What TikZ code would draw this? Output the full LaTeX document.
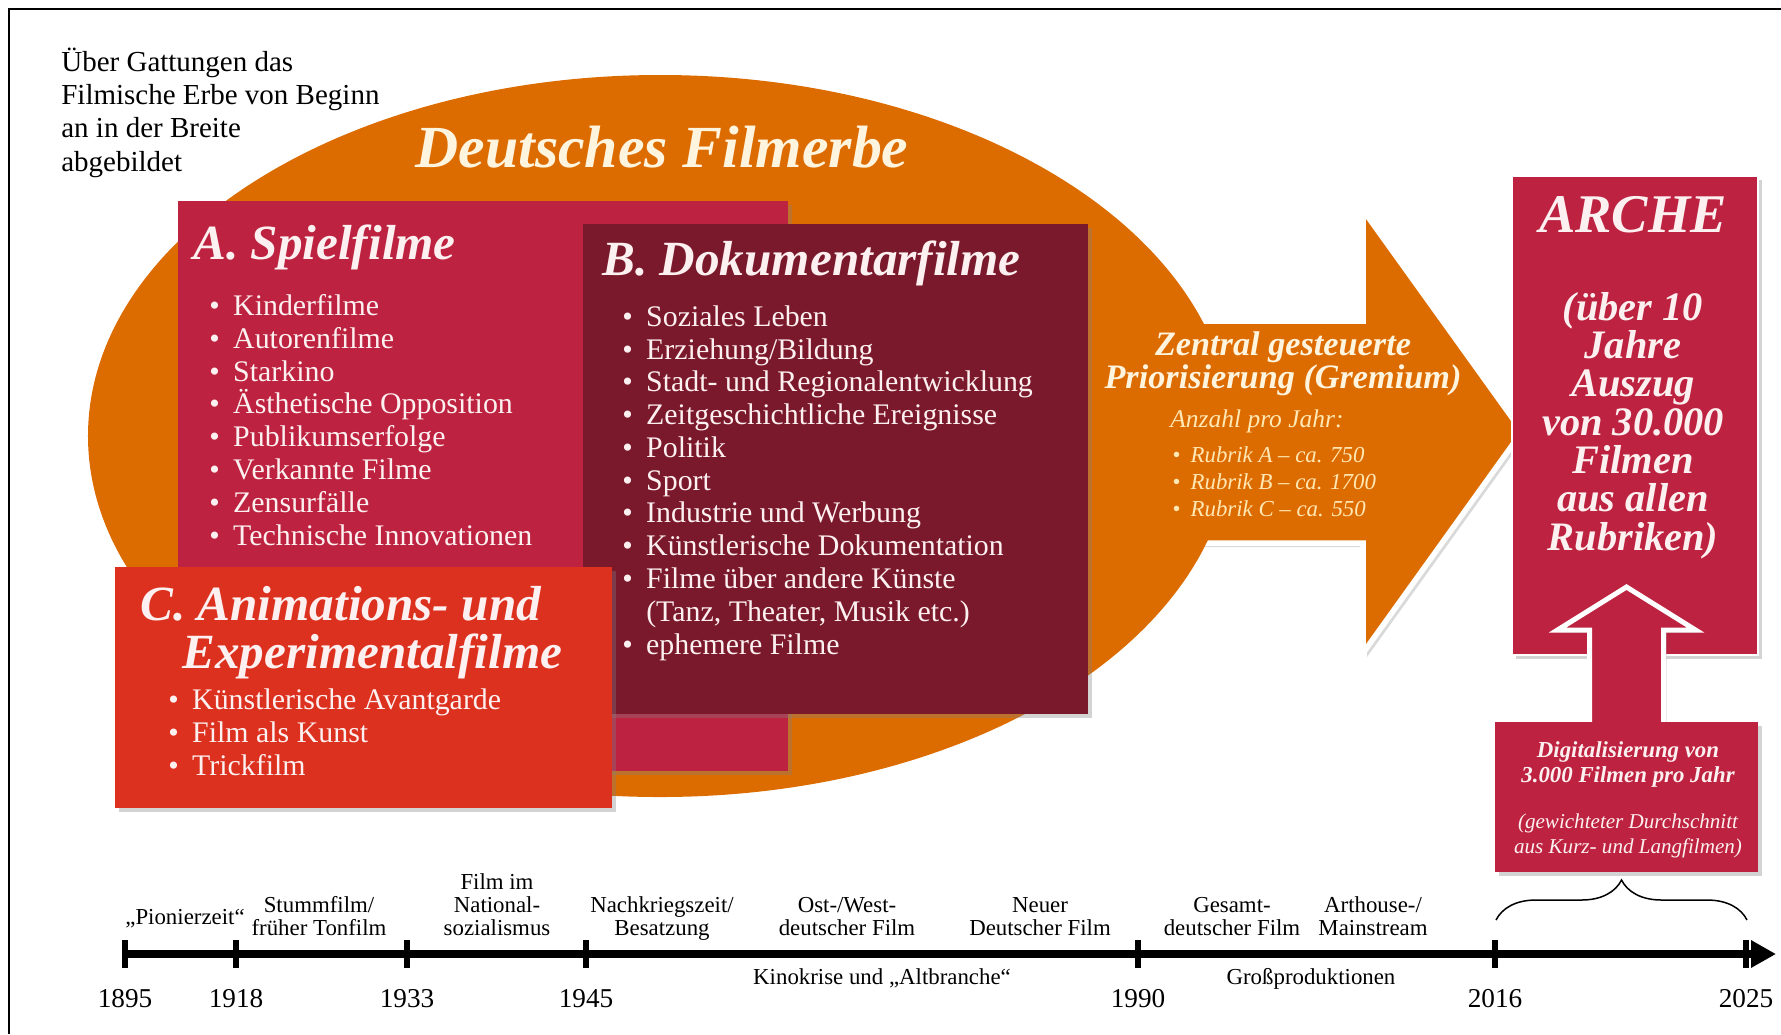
\documentclass[tikz,border=0pt]{standalone}
\usepackage{fontspec}
\setmainfont{Liberation Serif}
\usepackage{tikz}
\usetikzlibrary{calc,positioning,fit,shapes.geometric,shadows,arrows.meta,decorations.pathreplacing}

\definecolor{erbeorange}{RGB}{221,108,0}
\definecolor{spielrot}{RGB}{189,35,64}
\definecolor{dokurot}{RGB}{123,25,44}
\definecolor{animrot}{RGB}{221,49,31}
\definecolor{hell}{RGB}{253,240,240}
\definecolor{creme}{RGB}{255,244,222}
\definecolor{gelblich}{RGB}{255,232,180}

\newcommand{\punkt}{\textbullet\hspace{.45em}}
\newcommand{\schrift}[2]{\fontsize{#1}{#2}\selectfont}

\begin{document}
\begin{tikzpicture}[x=0.2mm, y=-0.2mm, inner sep=0pt,
    kasten/.style={inner sep=0pt, drop shadow={shadow xshift=.8mm, shadow yshift=-.8mm, opacity=.35}},
    titel/.style={font=\schrift{28}{27.3}\bfseries\itshape, text=hell, align=left},
    liste/.style={font=\schrift{17}{18.65}, text=hell, align=left},
    epoche/.style={font=\schrift{13}{13}, align=center, anchor=south, text depth=0pt},
    jahr/.style={font=\schrift{15.5}{16}, anchor=base},
    marke/.style={line width=1.1mm},
    klammer/.style={decorate, decoration={brace, amplitude=8mm}, line width=.3mm},
]
    \useasboundingbox (0,0) rectangle (1781,1034);
    \draw[line width=.45mm] (9,1034) -- (9,9) -- (1781,9);

    % base = Grundlinie der letzten Zeile
    \node[anchor=base west, align=left, font=\schrift{16.5}{18.8}] (intro) at (61,171) {Über Gattungen das\\Filmische Erbe von Beginn\\an in der Breite\\abgebildet};

    % Pfeil zur ARCHE, hinter der Ellipse
    \coordinate (spitze) at (1522,431.5);
    \draw[fill=erbeorange, draw=white, line width=1.1mm, drop shadow={shadow xshift=.8mm, shadow yshift=-.8mm, opacity=.3}]
        (1000,321) -- (1363,321) -- (1363,210) -- (spitze) -- (1363,653) -- (1363,543) -- (1000,543) -- cycle;

    \node[ellipse, fill=erbeorange, minimum width=228.8mm, minimum height=144.4mm] (erbe) at (660,436) {};
    \node[anchor=base, font=\schrift{34}{36}\bfseries\itshape, text=creme] (erbetitel) at (662,167) {Deutsches Filmerbe};

    % Rubriken
    \node[kasten, fill=spielrot, fit={(178,201) (788,771)}] (spiel) {};
    \node[kasten, fill=dokurot, fit={(583,224) (1088,714)}] (doku) {};
    \node[kasten, fill=animrot, fit={(115,567) (612,808)}] (anim) {};

    \node[titel, anchor=base west] (spieltitel) at (193,259) {A. Spielfilme};
    \node[liste, anchor=base west] (spielliste) at (209,545) {\punkt Kinderfilme\\\punkt Autorenfilme\\\punkt Starkino\\\punkt Ästhetische Opposition\\\punkt Publikumserfolge\\\punkt Verkannte Filme\\\punkt Zensurfälle\\\punkt Technische Innovationen};

    \node[titel, anchor=base west] (dokutitel) at (602,275) {B. Dokumentarfilme};
    \node[liste, anchor=base west] (dokuliste) at (622,654) {\punkt Soziales Leben\\\punkt Erziehung/Bildung\\\punkt Stadt- und Regionalentwicklung\\\punkt Zeitgeschichtliche Ereignisse\\\punkt Politik\\\punkt Sport\\\punkt Industrie und Werbung\\\punkt Künstlerische Dokumentation\\\punkt Filme über andere Künste\\\hphantom{\punkt}(Tanz, Theater, Musik etc.)\\\punkt ephemere Filme};

    \node[titel, anchor=base west] (animtitel) at (140,668) {C. Animations- und\\\hspace*{8.4mm}Experimentalfilme};
    \node[liste, anchor=base west] (animliste) at (168,775) {\punkt Künstlerische Avantgarde\\\punkt Film als Kunst\\\punkt Trickfilm};

    % Priorisierung
    \node[anchor=base, align=center, font=\schrift{19.5}{18.5}\bfseries\itshape, text=creme] (prio) at (1283,388) {Zentral gesteuerte\\Priorisierung (Gremium)};
    \node[anchor=base west, font=\schrift{14.5}{16}\itshape, text=gelblich] (anzahl) at (1170,427) {Anzahl pro Jahr:};
    \node[anchor=base west, align=left, font=\schrift{13}{15.3}\itshape, text=gelblich] (rubriken) at (1172,516) {\punkt Rubrik A – ca. 750\\\punkt Rubrik B – ca. 1700\\\punkt Rubrik C – ca. 550};

    % ARCHE
    \node[kasten, fill=spielrot, draw=white, line width=.5mm, fit={(1512,176) (1758,655)}] (arche) {};
    \node[anchor=base, font=\schrift{31}{32}\bfseries\itshape, text=hell] (archetitel) at (1633,232) {ARCHE};
    \node[anchor=base, align=center, font=\schrift{23}{21.8}\bfseries\itshape, text=hell] (archetext) at (1633,550) {(über 10\\Jahre\\Auszug\\von 30.000\\Filmen\\aus allen\\Rubriken)};

    \coordinate (digioben) at (1626.5,722);
    \draw[fill=spielrot, draw=white, line width=1mm, drop shadow={shadow xshift=.6mm, shadow yshift=-.6mm, opacity=.3}]
        ($(digioben)+(-37,0)$) -- ++(0,-92) -- ++(-32,0) -- ($(digioben)+(0,-135)$)
        -- ($(digioben)+(69,-92)$) -- ++(-32,0) -- ($(digioben)+(37,0)$);
    \node[kasten, fill=spielrot, fit={(1495,722) (1758,872)}] (digi) {};
    \node[anchor=base, align=center, font=\schrift{13}{14.2}\bfseries\itshape, text=hell] (digitext) at (1628,782) {Digitalisierung von\\3.000 Filmen pro Jahr};
    \node[anchor=base, align=center, font=\schrift{12}{13.7}\itshape, text=hell] (digischnitt) at (1628,853) {(gewichteter Durchschnitt\\aus Kurz- und Langfilmen)};

    \draw[klammer] (1496,920) -- (1747,920);

    % Zeitleiste
    \coordinate (achsanfang) at (125,954);
    \coordinate (achsende) at (1776,954);
    \draw[line width=1.6mm, -{Triangle[length=5mm, width=5.2mm]}] (achsanfang) -- (achsende);
    \foreach \x/\jz in {125/1895, 236/1918, 407/1933, 586/1945, 1138/1990, 1495/2016, 1746/2025}{
        \draw[marke] (\x,940) -- (\x,968);
        \node[jahr] (j\jz) at (\x,1007) {\jz};
    }

    \node[epoche] (pionier) at (185,925) {„Pionierzeit“};
    \node[epoche] (stumm) at (319,936) {Stummfilm/\\früher Tonfilm};
    \node[epoche] (ns) at (497,936) {Film im\\National-\\sozialismus};
    \node[epoche] (nachkrieg) at (662,936) {Nachkriegszeit/\\Besatzung};
    \node[epoche] (ostwest) at (847,936) {Ost-/West-\\deutscher Film};
    \node[epoche] (neuer) at (1040,936) {Neuer\\Deutscher Film};
    \node[epoche] (gesamt) at (1232,936) {Gesamt-\\deutscher Film};
    \node[epoche] (arthouse) at (1373,936) {Arthouse-/\\Mainstream};
    \node[epoche, anchor=base] (kinokrise) at (882,984) {Kinokrise und „Altbranche“};
    \node[epoche, anchor=base] (gross) at (1311,984) {Großproduktionen};
\end{tikzpicture}
\end{document}
